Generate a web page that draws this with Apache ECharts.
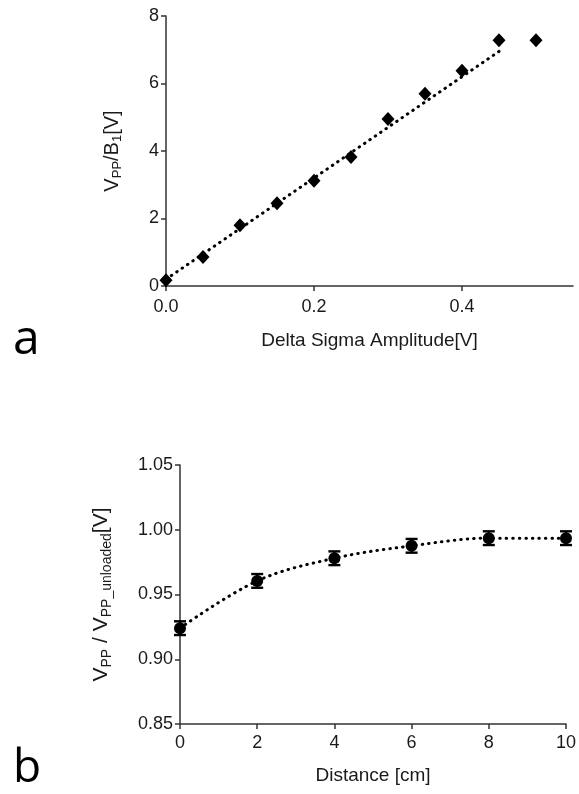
<!DOCTYPE html>
<html>
<head>
<meta charset="utf-8">
<script src="https://cdn.jsdelivr.net/npm/echarts@6/dist/echarts.min.js"></script>
<style>
html,body{margin:0;padding:0;background:#fff;}
#chart{width:579px;height:794px;}
</style>
</head>
<body>
<div id="chart"></div>
<script>
// Panel a data
var ampX = [0, 0.05, 0.1, 0.15, 0.2, 0.25, 0.3, 0.35, 0.4, 0.45, 0.5];
var ampY = [0.17, 0.86, 1.80, 2.45, 3.12, 3.82, 4.95, 5.70, 6.38, 7.28, 7.28];
var fitX = [0, 0.45];
var fitY = [0.2, 6.95];
var aXTicks = [0, 0.2, 0.4];

// Panel b data
var distX = [0, 2, 4, 6, 8, 10];
var ratioY = [0.924, 0.9605, 0.978, 0.9876, 0.9935, 0.9935];
var ratioErr = [0.0053, 0.0053, 0.0053, 0.0053, 0.0053, 0.0053];

var axisColor = '#333';
var txtColor = '#1a1a1a';
var font = 'Liberation Sans, Arial, sans-serif';

function pairs(xs, ys){ return xs.map(function(x,i){return [x, ys[i]];}); }

var chart = echarts.init(document.getElementById('chart'), null, {renderer:'canvas'});

var dotLine = {color: '#000', width: 3, type: [0.5, 6], cap: 'round'};

var option = {
  backgroundColor: '#fff',
  animation: false,
  textStyle: {fontFamily: font},
  graphic: [
    {type:'text', left: 13, top: 316, style:{text:'a', font:'48px "Open Sans", sans-serif', fill:'#000'}},
    {type:'text', left: 13, top: 746, style:{text:'b', font:'46px "Open Sans", sans-serif', fill:'#000'}}
  ],
  grid: [
    {left: 166, top: 16, width: 407, height: 270},
    {left: 180, top: 465, width: 388, height: 259}
  ],
  xAxis: [
    {
      gridIndex: 0, type: 'value', min: 0, max: 0.55, interval: 0.2,
      axisLine: {lineStyle: {color: axisColor, width: 1.5}},
      axisTick: {show: true, length: 5, customValues: aXTicks, lineStyle: {color: axisColor, width: 1.5}},
      axisLabel: {customValues: aXTicks, color: txtColor, fontSize: 18, margin: 12, fontFamily: font,
        formatter: function(v){return v.toFixed(1);}},
      splitLine: {show: false},
      name: 'Delta Sigma Amplitude[V]', nameLocation: 'middle', nameGap: 45,
      nameTextStyle: {color: txtColor, fontSize: 19, fontFamily: font}
    },
    {
      gridIndex: 1, type: 'value', min: 0, max: 10, interval: 2,
      axisLine: {lineStyle: {color: axisColor, width: 1.5}},
      axisTick: {show: true, length: 5, lineStyle: {color: axisColor, width: 1.5}},
      axisLabel: {color: txtColor, fontSize: 18, margin: 10, fontFamily: font},
      splitLine: {show: false},
      name: 'Distance [cm]', nameLocation: 'middle', nameGap: 42,
      nameTextStyle: {color: txtColor, fontSize: 19, fontFamily: font}
    }
  ],
  yAxis: [
    {
      gridIndex: 0, type: 'value', min: 0, max: 8, interval: 2,
      axisLine: {show: true, lineStyle: {color: axisColor, width: 1.5}},
      axisTick: {show: true, length: 5, lineStyle: {color: axisColor, width: 1.5}},
      axisLabel: {color: txtColor, fontSize: 18, margin: 7, fontFamily: font},
      splitLine: {show: false},
      name: 'V{s|PP}/B{s|1}[V]', nameLocation: 'middle', nameGap: 42, nameRotate: 90,
      nameTextStyle: {color: txtColor, fontSize: 20, fontFamily: font,
        rich: {s: {fontSize: 13, fontFamily: font, color: txtColor, verticalAlign: 'bottom', padding: [11, 0, 0, 0]}}}
    },
    {
      gridIndex: 1, type: 'value', min: 0.85, max: 1.05, interval: 0.05,
      axisLine: {show: true, lineStyle: {color: axisColor, width: 1.5}},
      axisTick: {show: true, length: 5, lineStyle: {color: axisColor, width: 1.5}},
      axisLabel: {color: txtColor, fontSize: 18, margin: 7, fontFamily: font,
        formatter: function(v){return v.toFixed(2);}},
      splitLine: {show: false},
      name: 'V{s|PP} / V{s|PP_unloaded}[V]', nameLocation: 'middle', nameGap: 66, nameRotate: 90,
      nameTextStyle: {color: txtColor, fontSize: 21, fontFamily: font,
        rich: {s: {fontSize: 14, fontFamily: font, color: txtColor, verticalAlign: 'bottom', padding: [11, 0, 0, 0]}}}
    }
  ],
  series: [
    {
      type: 'line', xAxisIndex: 0, yAxisIndex: 0, data: pairs(fitX, fitY),
      showSymbol: false, symbol: 'none', lineStyle: dotLine, z: 2
    },
    {
      type: 'scatter', xAxisIndex: 0, yAxisIndex: 0, data: pairs(ampX, ampY),
      symbol: 'diamond', symbolSize: [13, 14], itemStyle: {color: '#000', opacity: 1}, z: 3
    },
    {
      type: 'line', xAxisIndex: 1, yAxisIndex: 1, data: pairs(distX, ratioY),
      showSymbol: false, symbol: 'none', smooth: 0.35, lineStyle: dotLine, z: 2
    },
    {
      type: 'custom', xAxisIndex: 1, yAxisIndex: 1,
      data: distX.map(function(x,i){return [x, ratioY[i] - ratioErr[i], ratioY[i] + ratioErr[i]];}),
      renderItem: function(params, api){
        var lo = api.coord([api.value(0), api.value(1)]);
        var hi = api.coord([api.value(0), api.value(2)]);
        var hw = 6;
        var st = {stroke: '#000', lineWidth: 2.4};
        return {type: 'group', children: [
          {type: 'line', shape: {x1: lo[0], y1: lo[1], x2: hi[0], y2: hi[1]}, style: st},
          {type: 'line', shape: {x1: lo[0]-hw, y1: lo[1], x2: lo[0]+hw, y2: lo[1]}, style: st},
          {type: 'line', shape: {x1: hi[0]-hw, y1: hi[1], x2: hi[0]+hw, y2: hi[1]}, style: st}
        ]};
      }, z: 3
    },
    {
      type: 'scatter', xAxisIndex: 1, yAxisIndex: 1, data: pairs(distX, ratioY),
      symbol: 'circle', symbolSize: 12, itemStyle: {color: '#000', opacity: 1}, z: 4
    }
  ]
};
chart.setOption(option);
</script>
</body>
</html>
